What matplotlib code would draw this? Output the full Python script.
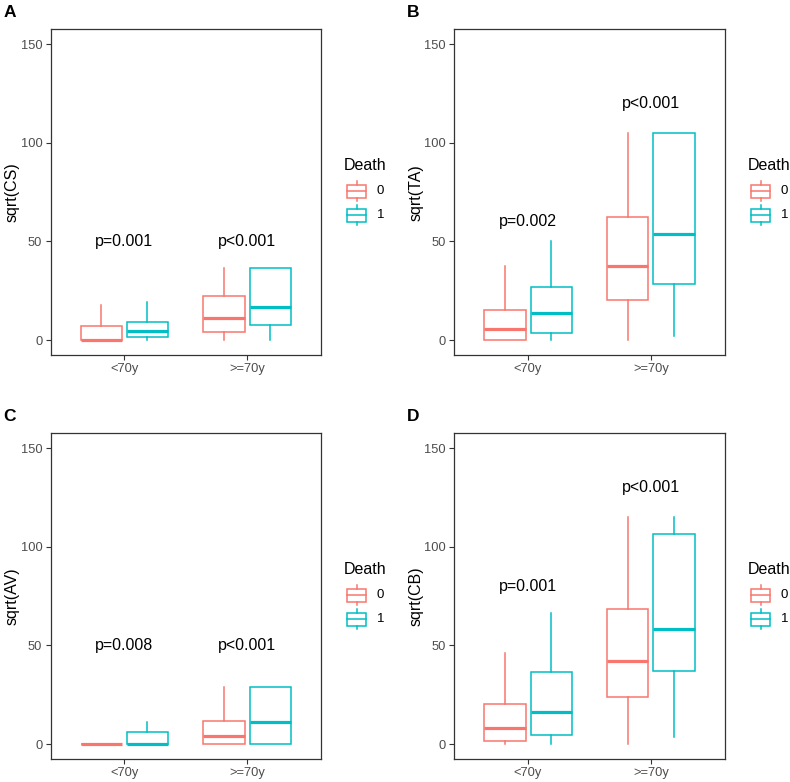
import matplotlib
matplotlib.use('Agg')
import matplotlib.pyplot as plt
from matplotlib.patches import Rectangle

plt.rcParams['font.family'] = ['Liberation Sans', 'DejaVu Sans']

# categories and labels
groups = ['<70y', '>=70y']
death_levels = ['0', '1']
panel_letters = ['A', 'B', 'C', 'D']
y_titles = ['sqrt(CS)', 'sqrt(TA)', 'sqrt(AV)', 'sqrt(CB)']

# box stats per group: [whislo, q1, median, q3, whishi]
cs_d0 = [[0, 0, 0, 7.2, 17.7], [0, 3.9, 11.1, 22.2, 36.6]]
cs_d1 = [[0, 1.5, 4.6, 9.1, 19.2], [0, 7.6, 16.9, 36.6, 36.6]]
ta_d0 = [[0, 0, 5.7, 15.2, 37.4], [0, 20.6, 37.4, 62.2, 105.2]]
ta_d1 = [[0, 3.7, 14.0, 26.8, 50.2], [1.9, 28.3, 53.6, 105.2, 105.2]]
av_d0 = [[0, 0, 0, 0, 0], [0, 0, 4.0, 11.6, 29.2]]
av_d1 = [[0, 0, 0, 6.1, 11.0], [0, 0, 11.1, 29.2, 29.2]]
cb_d0 = [[0, 1.7, 8.4, 20.2, 46.2], [0, 23.9, 42.1, 68.4, 115.0]]
cb_d1 = [[0, 4.7, 16.2, 36.7, 66.4], [3.5, 37.2, 58.5, 106.3, 115.0]]

# p-value annotations
cs_p = ['p=0.001', 'p<0.001']
cs_p_y = [50, 50]
ta_p = ['p=0.002', 'p<0.001']
ta_p_y = [60, 120]
av_p = ['p=0.008', 'p<0.001']
av_p_y = [50, 50]
cb_p = ['p=0.001', 'p<0.001']
cb_p_y = [80, 130]

panels = [
    (cs_d0, cs_d1, cs_p, cs_p_y),
    (ta_d0, ta_d1, ta_p, ta_p_y),
    (av_d0, av_d1, av_p, av_p_y),
    (cb_d0, cb_d1, cb_p, cb_p_y),
]

colors = ['#F8766D', '#00BFC4']
W, H = 790, 782
fig = plt.figure(figsize=(W / 100, H / 100), dpi=100)

# axes boxes in pixels: left, top, right, bottom
boxes = [(50.7, 29.3, 320.7, 355), (454.3, 29.3, 724.7, 355),
         (50.7, 433.3, 320.7, 759), (454.3, 433.3, 724.7, 759)]


def stats(v):
    return dict(whislo=v[0], q1=v[1], med=v[2], q3=v[3], whishi=v[4], fliers=[])


for i, (d0, d1, ptxt, py) in enumerate(panels):
    l, t, r, b = boxes[i]
    ax = fig.add_axes([l / W, 1 - b / H, (r - l) / W, (b - t) / H])
    for k, data in enumerate([d0, d1]):
        pos = [g + 1 + (k - 0.5) * 0.375 for g in range(len(groups))]
        c = colors[k]
        ax.bxp([stats(v) for v in data], positions=pos, widths=0.335,
               showcaps=False, showfliers=False, patch_artist=True,
               boxprops=dict(facecolor='white', edgecolor=c, linewidth=1.1),
               whiskerprops=dict(color=c, linewidth=1.1),
               medianprops=dict(color=c, linewidth=2.3, solid_capstyle='butt'))
    for g in range(len(groups)):
        ax.text(g + 1, py[g], ptxt[g], ha='center', va='center', fontsize=11.5)
    ax.set_xlim(0.4, 2.6)
    ax.set_ylim(-7.5, 157.5)
    ax.set_xticks([1, 2])
    ax.set_xticklabels(groups)
    ax.set_yticks([0, 50, 100, 150])
    ax.tick_params(colors='#333333', labelcolor='#4D4D4D', labelsize=9.3,
                   length=3.5, width=0.8, pad=2.5)
    for s in ax.spines.values():
        s.set_color('#333333')
        s.set_linewidth(0.9)

    # y title
    fig.text((l - 38.5) / W, 1 - (t + b) / 2 / H, y_titles[i], fontsize=11.5,
             rotation=90, ha='center', va='center')

    # panel letter
    fig.text((l - 47) / W, 1 - (t - 16.5) / H, panel_letters[i],
             fontsize=12.5, fontweight='bold', ha='left', va='center')

    # legend
    cy = (t + b) / 2
    fig.text((r + 23) / W, 1 - (cy - 27) / H, 'Death', fontsize=11.5,
             ha='left', va='center')
    for k, lev in enumerate(death_levels):
        ky = cy - 1 + 24 * k
        lax = fig.add_axes([(r + 25) / W, 1 - (ky + 11) / H, 22 / W, 22 / H])
        lax.set_xlim(0, 1)
        lax.set_ylim(0, 1)
        lax.axis('off')
        c = colors[k]
        lax.add_patch(Rectangle((0.07, 0.2), 0.86, 0.6, facecolor='white',
                                edgecolor=c, linewidth=1.1))
        lax.plot([0.07, 0.93], [0.5, 0.5], color=c, linewidth=1.1)
        lax.plot([0.5, 0.5], [0.8, 0.97], color=c, linewidth=1.1)
        lax.plot([0.5, 0.5], [0.03, 0.2], color=c, linewidth=1.1)
        fig.text((r + 56) / W, 1 - ky / H, lev, fontsize=9.5, ha='left',
                 va='center')

fig.savefig('out.png', dpi=100)
